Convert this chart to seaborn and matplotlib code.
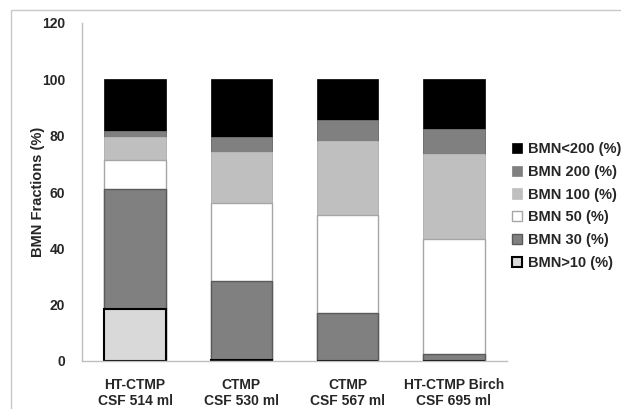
import numpy as np
import pandas as pd
import matplotlib
matplotlib.use('Agg')
import matplotlib.pyplot as plt
import matplotlib.patches as mpatches
import seaborn as sns

# Pulp samples (x categories)
samples = ['HT-CTMP\nCSF 514 ml', 'CTMP\nCSF 530 ml', 'CTMP\nCSF 567 ml', 'HT-CTMP Birch\nCSF 695 ml']

# BMN fractions (%), bottom to top
bmn_gt10 = [18.5, 0.4, 0.0, 0.0]
bmn_30 = [42.5, 28.0, 17.1, 2.4]
bmn_50 = [10.5, 27.7, 34.6, 41.0]
bmn_100 = [8.0, 18.1, 26.3, 30.2]
bmn_200 = [2.3, 5.3, 7.5, 8.7]
bmn_lt200 = [18.2, 20.5, 14.5, 17.7]

fractions = ['BMN<200 (%)', 'BMN 200 (%)', 'BMN 100 (%)', 'BMN 50 (%)', 'BMN 30 (%)', 'BMN>10 (%)']
stack = [bmn_gt10, bmn_30, bmn_50, bmn_100, bmn_200, bmn_lt200]  # bottom -> top

# style per fraction (top -> bottom, same order as `fractions`)
faces = ['#000000', '#808080', '#bfbfbf', '#ffffff', '#808080', '#d9d9d9']
edges = ['#000000', '#808080', '#bfbfbf', '#a6a6a6', '#5a5a5a', '#000000']
widths = [0.5, 0.5, 0.5, 1.0, 1.0, 1.5]

sns.set_style('white')
plt.rcParams['font.family'] = ['Liberation Sans Narrow', 'Liberation Sans', 'DejaVu Sans']
plt.rcParams['font.weight'] = 'bold'

fig = plt.figure(figsize=(6.21, 4.09), dpi=100)
ax = fig.add_axes([82 / 621, 1 - 361 / 409, 425 / 621, 338 / 409])

# cumulative tops, drawn from the tallest down so each layer covers the one above
cum = np.cumsum(np.array(stack), axis=0)
for i in range(len(stack) - 1, -1, -1):
    k = len(stack) - 1 - i
    df = pd.DataFrame({'sample': samples, 'value': cum[i]})
    sns.barplot(data=df, x='sample', y='value', ax=ax, color=faces[k],
                saturation=1, width=0.58, edgecolor=edges[k], linewidth=widths[k])

ax.set_ylim(0, 120)
ax.set_yticks(range(0, 121, 20))
ax.set_xlim(-0.5, 3.5)
ax.set_xlabel('')
ax.set_ylabel('BMN Fractions (%)', fontsize=10.5, fontweight='bold', labelpad=-2)
ax.tick_params(axis='y', length=4, color='#bfbfbf', labelsize=10, pad=8)
ax.tick_params(axis='x', length=0, labelsize=10, pad=12)
for lbl in ax.get_xticklabels() + ax.get_yticklabels():
    lbl.set_fontweight('bold')
for s in ['top', 'right']:
    ax.spines[s].set_visible(False)
for s in ['left', 'bottom']:
    ax.spines[s].set_color('#bfbfbf')
    ax.spines[s].set_linewidth(1)

handles = [mpatches.Patch(facecolor=f, edgecolor=e, linewidth=w)
           for f, e, w in zip(faces, edges, widths)]
leg = fig.legend(handles, fractions, loc='upper left', bbox_to_anchor=(512 / 621, 1 - 142 / 409),
                 frameon=False, prop={'size': 10.5, 'weight': 'bold'},
                 handlelength=0.7, handleheight=0.7,
                 handletextpad=0.4, labelspacing=0.6, borderaxespad=0, borderpad=0)

# chart area border
fig.patches.append(mpatches.Rectangle((11 / 621, -0.1), 1.2, 1 - 10 / 409 + 0.1,
                                      transform=fig.transFigure, fill=False,
                                      edgecolor='#c8c8c8', linewidth=1))

fig.savefig('out.png', dpi=100)
